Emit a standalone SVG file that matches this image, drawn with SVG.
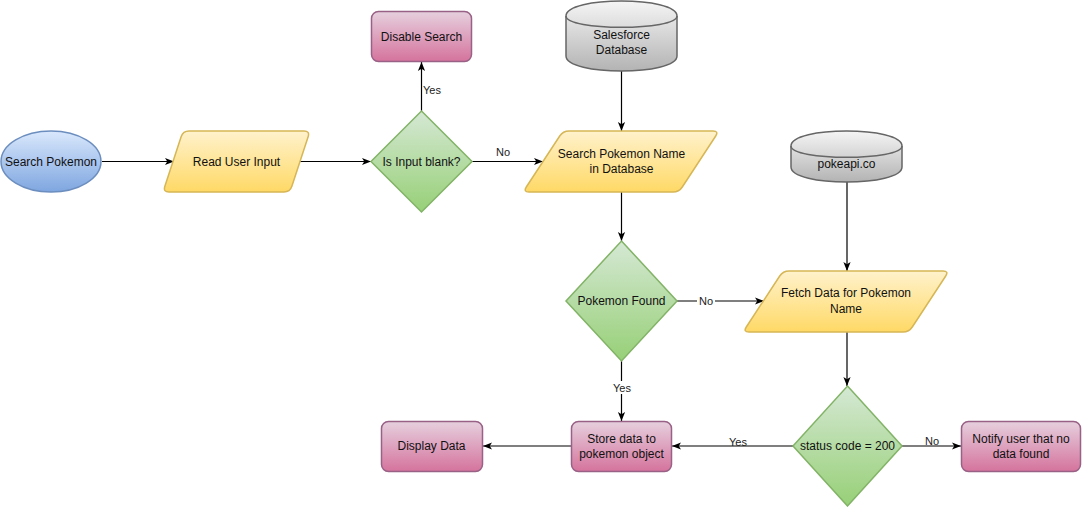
<svg xmlns="http://www.w3.org/2000/svg" width="1082" height="507" viewBox="0 0 1082 507">
<style>
text{font-family:"Liberation Sans",Arial,sans-serif;font-size:12px;fill:#111;text-anchor:middle;dominant-baseline:central}
.lbl{font-size:11px;fill:#222}
.edge{fill:none;stroke:#000;stroke-width:1.2}
.blue{fill:url(#gBlue);stroke:#6c8ebf;stroke-width:1.5}
.yel{fill:url(#gYel);stroke:#d6b656;stroke-width:1.5}
.grn{fill:url(#gGrn);stroke:#82b366;stroke-width:1.5}
.pnk{fill:url(#gPnk);stroke:#996185;stroke-width:1.5}
.gry{fill:url(#gGry);stroke:#666;stroke-width:1.5}
.cyltop{fill:none;stroke:#666;stroke-width:1.5}
.bg{fill:#fff}
</style>
<defs>
<linearGradient id="gBlue" x1="0" y1="0" x2="0" y2="1"><stop offset="0" stop-color="#dae8fc"/><stop offset="1" stop-color="#7ea6e0"/></linearGradient>
<linearGradient id="gYel" x1="0" y1="0" x2="0" y2="1"><stop offset="0" stop-color="#fff2cc"/><stop offset="1" stop-color="#ffd966"/></linearGradient>
<linearGradient id="gGrn" x1="0" y1="0" x2="0" y2="1"><stop offset="0" stop-color="#d5e8d4"/><stop offset="1" stop-color="#97d077"/></linearGradient>
<linearGradient id="gPnk" x1="0" y1="0" x2="0" y2="1"><stop offset="0" stop-color="#e6d0de"/><stop offset="1" stop-color="#d5739d"/></linearGradient>
<linearGradient id="gGry" x1="0" y1="0" x2="0" y2="1"><stop offset="0" stop-color="#f5f5f5"/><stop offset="1" stop-color="#b3b3b3"/></linearGradient>
<marker id="arr" viewBox="0 0 10 10" markerWidth="9" markerHeight="9" refX="10" refY="5" orient="auto" markerUnits="userSpaceOnUse">
<path d="M0,1 L10,5 L0,9 L2.5,5 Z" fill="#000"/>
</marker>
</defs>

<g id="connectors">
<path class="edge" d="M102,161.5 L174,161.5" marker-end="url(#arr)"/>
<path class="edge" d="M300,161.5 L371,161.5" marker-end="url(#arr)"/>
<path class="edge" d="M421.5,111 L421.5,62" marker-end="url(#arr)"/>
<text class="lbl" x="432" y="90">Yes</text>
<path class="edge" d="M472,161.5 L543,161.5" marker-end="url(#arr)"/>
<text class="lbl" x="503" y="152">No</text>
<path class="edge" d="M621.5,71 L621.5,131" marker-end="url(#arr)"/>
<path class="edge" d="M621.5,192 L621.5,241" marker-end="url(#arr)"/>
<path class="edge" d="M677,301 L764,301" marker-end="url(#arr)"/>
<rect class="bg" x="697" y="294" width="18" height="13"/>
<text class="lbl" x="706" y="301">No</text>
<path class="edge" d="M847,182 L847,271" marker-end="url(#arr)"/>
<path class="edge" d="M847,332 L847,386" marker-end="url(#arr)"/>
<path class="edge" d="M621.5,361 L621.5,421" marker-end="url(#arr)"/>
<rect class="bg" x="612" y="381" width="20" height="13"/>
<text class="lbl" x="622" y="388">Yes</text>
<path class="edge" d="M793,446 L672,446" marker-end="url(#arr)"/>
<rect class="bg" x="728" y="436" width="20" height="9"/>
<text class="lbl" x="738" y="442">Yes</text>
<path class="edge" d="M571,446 L483,446" marker-end="url(#arr)"/>
<path class="edge" d="M902,446 L961,446" marker-end="url(#arr)"/>
<rect class="bg" x="924" y="436" width="17" height="9"/>
<text class="lbl" x="932" y="441">No</text>
</g>

<g id="search-pokemon">
<ellipse class="blue" cx="51" cy="161.5" rx="50" ry="30.5"/>
<text x="51" y="161.5">Search Pokemon</text>
</g>

<g id="read-user-input">
<path class="yel" d="M189,131 L304,131 Q310,131 308.13,136.7 L291.87,186.3 Q290,192 284,192 L169,192 Q163,192 164.87,186.3 L181.13,136.7 Q183,131 189,131 Z"/>
<text x="236.5" y="161.5">Read User Input</text>
</g>

<g id="is-input-blank">
<path class="grn" d="M421.5,111 L472,161.5 L421.5,212 L371,161.5 Z"/>
<text x="421.5" y="161.5">Is Input blank?</text>
</g>

<g id="disable-search">
<rect class="pnk" x="371.5" y="11.5" width="100" height="50" rx="7"/>
<text x="421.5" y="36.5">Disable Search</text>
</g>

<g id="salesforce-db">
<path class="gry" d="M566,16 C566,-4 677,-4 677,16 L677,56 C677,76 566,76 566,56 Z"/>
<path class="cyltop" d="M566,16 C566,31 677,31 677,16"/>
<text x="621.5" y="35">Salesforce</text>
<text x="621.5" y="50">Database</text>
</g>

<g id="search-db">
<path class="yel" d="M569,131 L713,131 Q719,131 715.71,136.02 L682.29,186.98 Q679,192 673,192 L529,192 Q523,192 526.29,186.98 L559.71,136.02 Q563,131 569,131 Z"/>
<text x="621.5" y="154">Search Pokemon Name</text>
<text x="621.5" y="169">in Database</text>
</g>

<g id="pokeapi">
<path class="gry" d="M791,146 C791,126 902,126 902,146 L902,167 C902,187 791,187 791,167 Z"/>
<path class="cyltop" d="M791,146 C791,161 902,161 902,146"/>
<text x="846.5" y="164">pokeapi.co</text>
</g>

<g id="pokemon-found">
<path class="grn" d="M621.5,241 L677,301 L621.5,361 L566,301 Z"/>
<text x="621.5" y="301">Pokemon Found</text>
</g>

<g id="fetch-data">
<path class="yel" d="M789,271 L943,271 Q949,271 945.71,276.02 L912.29,326.98 Q909,332 903,332 L749,332 Q743,332 746.29,326.98 L779.71,276.02 Q783,271 789,271 Z"/>
<text x="846" y="293">Fetch Data for Pokemon</text>
<text x="846" y="309">Name</text>
</g>

<g id="status-code">
<path class="grn" d="M847.5,386 L902,446 L847.5,506 L793,446 Z"/>
<text x="847.5" y="446">status code = 200</text>
</g>

<g id="store-data">
<rect class="pnk" x="571.5" y="421.5" width="100" height="50" rx="7"/>
<text x="621.5" y="439">Store data to</text>
<text x="621.5" y="454">pokemon object</text>
</g>

<g id="display-data">
<rect class="pnk" x="381.5" y="421.5" width="101" height="50" rx="7"/>
<text x="431.5" y="446">Display Data</text>
</g>

<g id="notify-user">
<rect class="pnk" x="961.5" y="421.5" width="119" height="50" rx="7"/>
<text x="1021" y="439">Notify user that no</text>
<text x="1021" y="454">data found</text>
</g>
</svg>
